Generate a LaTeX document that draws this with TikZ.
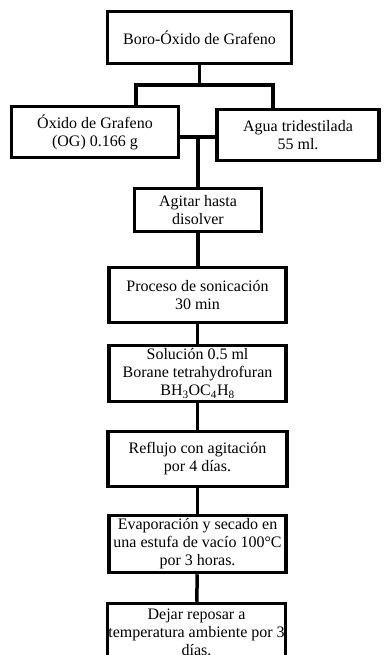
\documentclass[tikz,border=0pt]{standalone}
\usepackage{fontspec}
\setmainfont{Liberation Serif}
\usepackage{tikz}

\begin{document}
\begin{tikzpicture}[x=1pt,y=-1pt,
    box/.style={draw,line width=3.5pt,align=center,inner sep=0pt,
      font=\fontsize{16}{18}\selectfont},
    link/.style={line width=3.5pt}]
  \useasboundingbox (0,0) rectangle (383,655);

  % cajas
  \node[box,minimum width=184pt,minimum height=52pt] (boro) at (199.5,37.5) {Boro-Óxido de Grafeno};
  \node[box,minimum width=167pt,minimum height=51pt] (og) at (95,132) {Óxido de Grafeno\\(OG) 0.166 g};
  \node[box,minimum width=162pt,minimum height=51pt] (agua) at (298,135) {Agua tridestilada\\55 ml.};
  \node[box,minimum width=127pt,minimum height=43pt] (agitar) at (198,210) {Agitar hasta\\disolver};
  \node[box,minimum width=177pt,minimum height=55pt] (sonic) at (197.5,295) {Proceso de sonicación\\30 min};
  \node[box,minimum width=177pt,minimum height=56pt] (borano) at (197.5,373.5) {Solución 0.5 ml\\Borane tetrahydrofuran\\BH\textsubscript{3}OC\textsubscript{4}H\textsubscript{8}};
  \node[box,minimum width=179pt,minimum height=55pt] (reflujo) at (197.5,459) {Reflujo con agitación\\por 4 días.};
  \node[box,minimum width=177pt,minimum height=57pt] (evap) at (197.5,544) {Evaporación y secado en\\una estufa de vacío 100°C\\por 3 horas.};
  \node[box,minimum width=178pt,minimum height=57pt] (reposo) at (196.5,632) {Dejar reposar a\\temperatura ambiente por 3\\días.};

  % conexiones
  \coordinate (split) at (199.5,85);
  \coordinate (join) at (198,137);
  \draw[link] (boro.south) -- (split);
  \draw[link] ([xshift=41pt]og.north) |- (split) -| ([xshift=-25pt]agua.north);
  \draw[link] (og.east |- join) -- (agua.west |- join);
  \draw[link] (join) -- (agitar.north);
  \draw[link] (agitar.south) -- (agitar.south |- sonic.north);
  \draw[link] (sonic) -- (borano);
  \draw[link] (borano) -- (reflujo);
  \draw[link] (reflujo) -- (evap);
  \draw[link] (evap) -- (reposo);
\end{tikzpicture}
\end{document}
